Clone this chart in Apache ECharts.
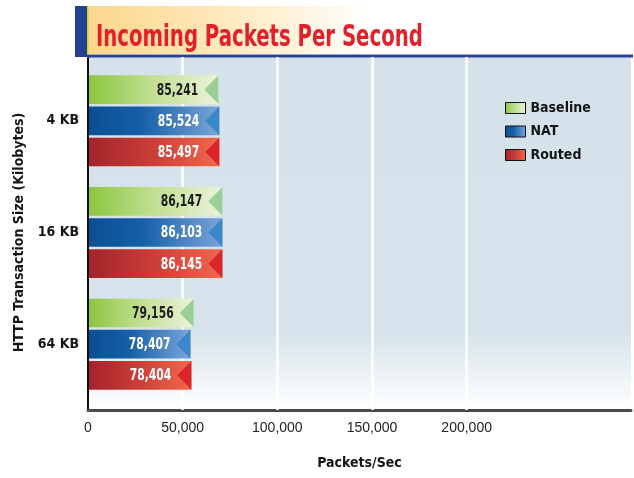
<!DOCTYPE html>
<html>
<head>
<meta charset="utf-8">
<script src="https://cdn.jsdelivr.net/npm/echarts@6/dist/echarts.min.js"></script>
<style>
html,body{margin:0;padding:0;background:#fff;}
#chart{width:634px;height:478px;}
</style>
</head>
<body>
<div id="chart"></div>
<script>
// ---- data ----
var categories = ['4 KB', '16 KB', '64 KB'];
var seriesNames = ['Baseline', 'NAT', 'Routed'];
// printed values (bar labels)
var baselineLabels = [85241, 86147, 79156];
var natLabels = [85524, 86103, 78407];
var routedLabels = [85497, 86145, 78404];
// bar lengths as drawn on the picture's axis scale
var baselineBars = [68600, 70700, 55600];
var natBars = [69100, 70700, 53900];
var routedBars = [69100, 70700, 54400];
var xTicks = [0, 50000, 100000, 150000, 200000];
var gridTicks = [50000, 100000, 150000, 200000];
var xMax = 286800;

var NARROW = "'Liberation Sans Narrow','Arial Narrow','DejaVu Sans Condensed',sans-serif";

function lg(stops) {
  return {type: 'linear', x: 0, y: 0, x2: 1, y2: 0,
    colorStops: stops.map(function (s) { return {offset: s[0], color: s[1]}; })};
}
var styles = [
  {fill: lg([[0, '#8cc63f'], [0.45, '#bddd8c'], [1, '#ecf3da']]), arrow: '#9ccf98', text: '#1e1e1e'},
  {fill: lg([[0, '#0a4f92'], [0.4, '#1660a8'], [1, '#7ba5d8']]), arrow: '#3a88c9', text: '#ffffff'},
  {fill: lg([[0, '#a2242a'], [0.45, '#c83b36'], [1, '#f1684c']]), arrow: '#da262b', text: '#ffffff'}
];
var barsAll = [baselineBars, natBars, routedBars];
var labelsAll = [baselineLabels, natLabels, routedLabels];

function fmt(v) { return v.toLocaleString('en-US'); }

function makeSeries(si) {
  var data = barsAll[si].map(function (v, i) { return [v, i]; });
  return {
    name: seriesNames[si],
    type: 'custom',
    xAxisIndex: 1, yAxisIndex: 1,
    z: 10,
    itemStyle: {color: styles[si].fill},
    encode: {x: 0, y: 1},
    data: data,
    renderItem: function (params, api) {
      var cat = api.value(1);
      var v = api.value(0);
      var p0 = api.coord([0, cat]);
      var p1 = api.coord([v, cat]);
      var band = api.size([0, 1])[1];
      var barH = band * 0.257;
      var stride = band * 0.279;
      var yc = p0[1] + (si - 1) * stride;
      var top = yc - barH / 2, bot = yc + barH / 2;
      var st = styles[si];
      return {
        type: 'group',
        children: [
          {type: 'rect', shape: {x: p0[0] + 1, y: top, width: p1[0] - p0[0] - 1, height: barH}, style: {fill: st.fill}},
          {type: 'polygon', shape: {points: [[p1[0], top], [p1[0] - 14, yc], [p1[0], bot]]}, style: {fill: st.arrow}},
          {type: 'text', x: p1[0] - 20, y: yc + 1, scaleX: 0.8, scaleY: 1,
            style: {x: 0, y: 0, text: fmt(labelsAll[si][cat]), align: 'right', verticalAlign: 'middle',
            fill: st.text, font: 'bold 15px ' + NARROW}}
        ]
      };
    }
  };
}

var chart = echarts.init(document.getElementById('chart'), null, {renderer: 'canvas'});
var option = {
  animation: false,
  backgroundColor: '#ffffff',
  graphic: [
    {type: 'rect', left: 75, top: 6, shape: {width: 12, height: 51}, style: {fill: '#25408f'}, z: 1},
    {type: 'rect', left: 87, top: 6, shape: {width: 546, height: 49},
      style: {fill: {type: 'linear', x: 0, y: 0, x2: 1, y2: 0, colorStops: [
        {offset: 0, color: '#fcd78c'}, {offset: 0.25, color: '#fde9bd'}, {offset: 0.52, color: '#ffffff'}, {offset: 1, color: '#ffffff'}]}}, z: 1},
    {type: 'rect', left: 87, top: 6, shape: {width: 1.5, height: 49}, style: {fill: '#c9d23a'}, z: 2},
    {type: 'rect', left: 87, top: 54, shape: {width: 546, height: 1}, style: {fill: '#9aa7cc'}, z: 2},
    {type: 'rect', left: 87, top: 55, shape: {width: 546, height: 2.5}, style: {fill: '#2a4192'}, z: 2},
    {type: 'text', x: 96, y: 38, scaleX: 0.73, scaleY: 1,
      style: {x: 0, y: 0, text: 'Incoming Packets Per Second', fill: '#e3202a', verticalAlign: 'middle',
      font: 'bold 30px ' + NARROW}, z: 3}
  ],
  legend: {
    orient: 'vertical', left: 505, top: 101, padding: 0,
    itemWidth: 20, itemHeight: 11, itemGap: 9.5,
    icon: 'rect',
    itemStyle: {borderColor: '#111', borderWidth: 1},
    textStyle: {fontFamily: NARROW, fontWeight: 'bold', fontSize: 14, color: '#151515', padding: [0, 0, 0, 0]},
    data: seriesNames,
    selectedMode: false
  },
  grid: [
    {left: 88, right: 1, top: 57, bottom: 68, show: true, borderWidth: 0,
      backgroundColor: {type: 'linear', x: 0, y: 0, x2: 0, y2: 1, colorStops: [
        {offset: 0, color: '#d5e2ea'}, {offset: 0.78, color: '#d6e3ea'}, {offset: 1, color: '#ffffff'}]}},
    {left: 88, right: 1, top: 65, bottom: 78}
  ],
  xAxis: [
    {type: 'value', gridIndex: 0, min: 0, max: xMax, interval: 50000,
      axisLine: {show: true, onZero: false, lineStyle: {color: '#4a4a4a', width: 3}},
      axisTick: {show: false}, splitLine: {show: false},
      axisLabel: {margin: 11, color: '#222', fontSize: 14, fontFamily: "'Liberation Sans',sans-serif",
        formatter: function (v) { return xTicks.indexOf(v) >= 0 ? fmt(v) : ''; }},
      name: 'Packets/Sec', nameLocation: 'middle', nameGap: 46,
      nameTextStyle: {fontFamily: NARROW, fontWeight: 'bold', fontSize: 14, color: '#151515'}},
    {type: 'value', gridIndex: 1, min: 0, max: xMax, show: false}
  ],
  yAxis: [
    {type: 'value', gridIndex: 0, min: 0, max: 1,
      axisLine: {show: true, lineStyle: {color: '#111', width: 2}},
      axisTick: {show: false}, axisLabel: {show: false}, splitLine: {show: false}},
    {type: 'category', gridIndex: 1, data: categories, inverse: true,
      axisLine: {show: false}, axisTick: {show: false}, splitLine: {show: false},
      axisLabel: {margin: 9, color: '#151515', fontFamily: NARROW, fontWeight: 'bold', fontSize: 14},
      name: 'HTTP Transaction Size (Kilobytes)', nameLocation: 'middle', nameGap: 50, nameRotate: 90,
      nameTextStyle: {fontFamily: NARROW, fontWeight: 'bold', fontSize: 14, color: '#151515'}}
  ],
  series: [
    {type: 'line', xAxisIndex: 0, yAxisIndex: 0, data: [], silent: true, z: 1,
      markLine: {silent: true, symbol: 'none', label: {show: false},
        lineStyle: {color: '#ffffff', width: 2.5, type: 'solid', opacity: 1},
        data: gridTicks.map(function (t) { return {xAxis: t}; })}},
    makeSeries(0), makeSeries(1), makeSeries(2)
  ]
};
chart.setOption(option);
</script>
</body>
</html>
